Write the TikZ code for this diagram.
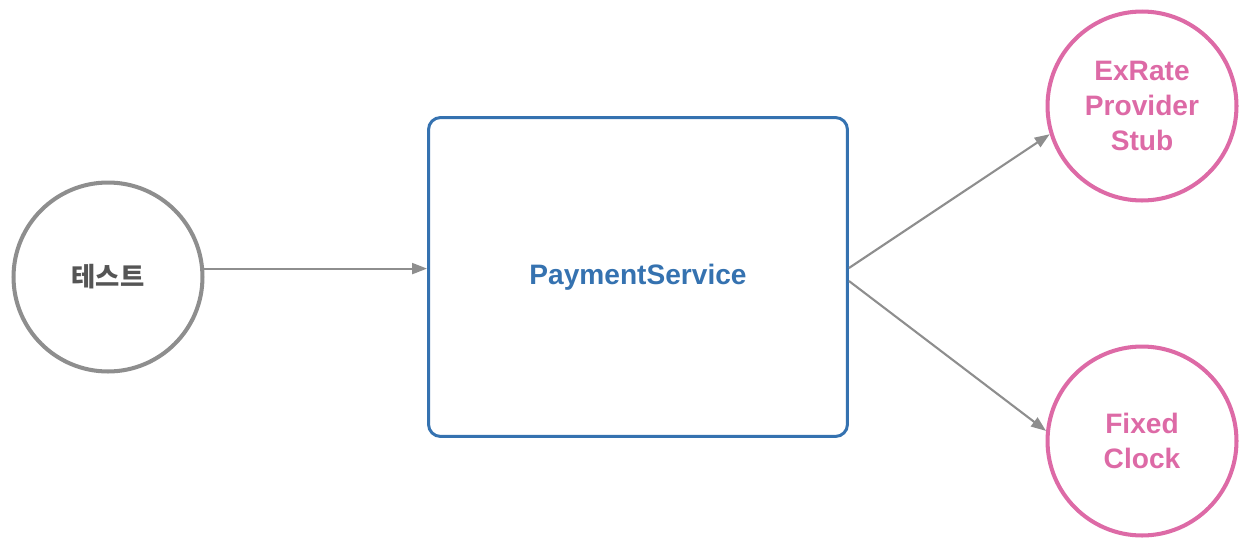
\documentclass[tikz,border=0pt]{standalone}
\usepackage{fontspec}
\setmainfont{Liberation Sans}
\newfontfamily\kofont{Noto Sans CJK KR}
\usetikzlibrary{arrows.meta}
\definecolor{linegray}{HTML}{8E8E8E}
\definecolor{textgray}{HTML}{555555}
\definecolor{svcblue}{HTML}{3572B0}
\definecolor{stubpink}{HTML}{DD6AA6}
\begin{document}
\begin{tikzpicture}[x=0.02cm, y=-0.02cm,
    ball/.style={circle, draw, line width=2.3pt, inner sep=0pt, minimum size=3.78cm,
        align=center, font=\bfseries\fontsize{16}{20}\selectfont},
    link/.style={draw=linegray, line width=1.2pt, -{Triangle[length=0.3cm, width=0.22cm]}}]
    \useasboundingbox (0,0) rectangle (1250,548);

    \node[ball, draw=linegray, text=textgray, font=\kofont\bfseries\fontsize{15}{18}\selectfont] (test) at (108,277) {테스트};
    \node[draw=svcblue, text=svcblue, line width=1.7pt, rounded corners=0.24cm,
        minimum width=8.38cm, minimum height=6.38cm,
        font=\bfseries\fontsize{16}{20}\selectfont] (pay) at (638,277) {PaymentService};
    \node[ball, draw=stubpink, text=stubpink] (exrate) at (1142,106) {ExRate\\Provider\\Stub};
    \node[ball, draw=stubpink, text=stubpink] (clock) at (1142,441) {Fixed\\Clock};

    \draw[link] (test.5) -- (test.5 -| pay.west);
    \draw[link] ([yshift=0.18cm]pay.east) -- (exrate.197);
    \draw[link] ([yshift=-0.08cm]pay.east) -- (clock.174);
\end{tikzpicture}
\end{document}
